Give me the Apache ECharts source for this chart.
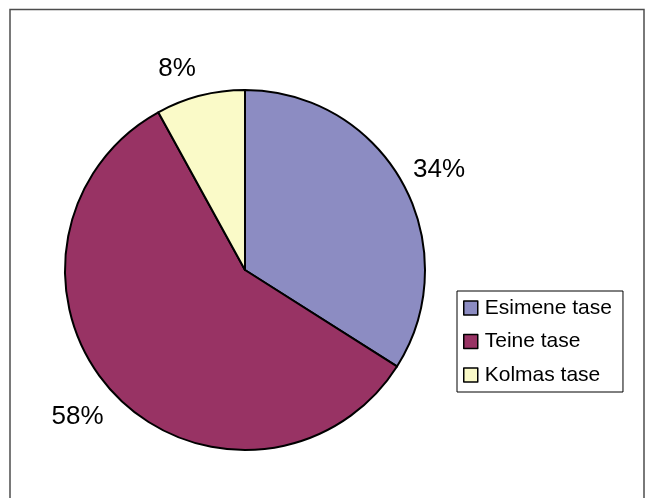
<!DOCTYPE html>
<html>
<head>
<meta charset="utf-8">
<script src="https://cdn.jsdelivr.net/npm/echarts@6/dist/echarts.min.js"></script>
<style>
html,body{margin:0;padding:0;background:#fff;}
#c{width:654px;height:498px;}
</style>
</head>
<body>
<div id="c"></div>
<script>
const categories = ['Esimene tase', 'Teine tase', 'Kolmas tase'];
const values = [34, 58, 8];
const colors = ['#8C8CC2', '#983364', '#FAFAC8'];
// label nudges (px) to match reference placement
const labelOffsets = [[-7, -6.5], [5, 14.5], [4, -13.5]];

const chart = echarts.init(document.getElementById('c'), null, {renderer: 'canvas'});
chart.setOption({
  backgroundColor: '#ffffff',
  animation: false,
  graphic: [{
    type: 'rect',
    shape: {x: 10, y: 9.5, width: 634, height: 520},
    style: {fill: 'none', stroke: '#4d4d4d', lineWidth: 1.5},
    silent: true
  }],
  legend: {
    orient: 'vertical',
    left: 457,
    top: 291,
    data: categories,
    backgroundColor: '#fff',
    borderColor: '#000',
    borderWidth: 1,
    padding: [6.5, 11, 6.5, 6],
    itemGap: 12.5,
    itemWidth: 14,
    itemHeight: 14,
    icon: 'rect',
    itemStyle: {borderColor: '#000', borderWidth: 1.5},
    textStyle: {fontFamily: 'Liberation Sans, Arial, sans-serif', fontSize: 21, lineHeight: 21, color: '#000', padding: [0, 0, 0, 2]}
  },
  series: [{
    type: 'pie',
    center: [245, 270],
    radius: 180,
    startAngle: 90,
    clockwise: true,
    data: categories.map((n, i) => ({
      name: n, value: values[i],
      itemStyle: {color: colors[i]},
      label: {offset: labelOffsets[i]}
    })),
    itemStyle: {borderColor: '#000', borderWidth: 2},
    label: {
      show: true,
      position: 'outside',
      formatter: '{c}%',
      fontFamily: 'Liberation Sans, Arial, sans-serif',
      fontSize: 26,
      color: '#000'
    },
    labelLine: {show: false, length: 14, length2: 0},
    emphasis: {disabled: true}
  }]
});
</script>
</body>
</html>
